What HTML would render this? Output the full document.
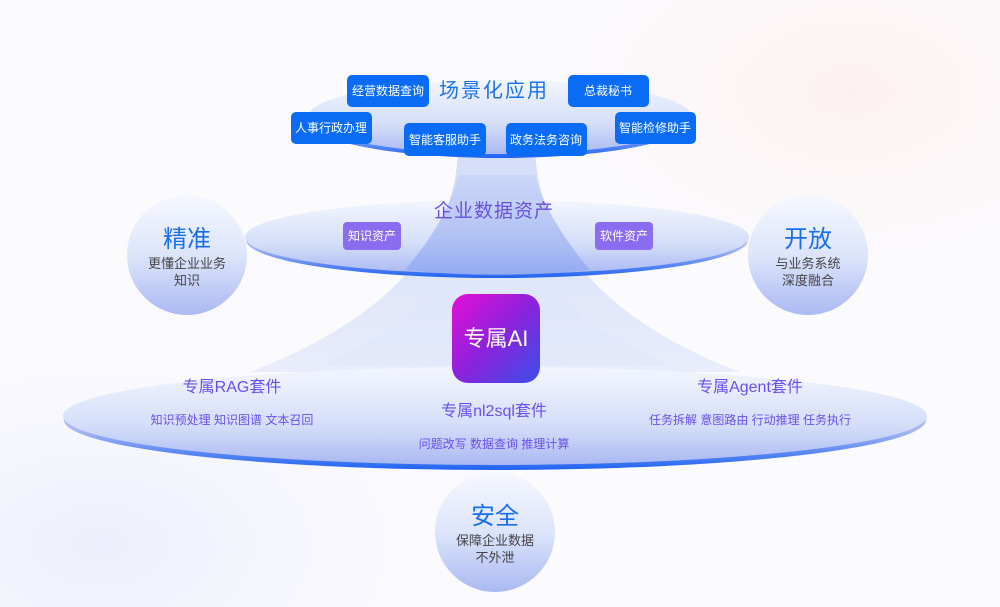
<!DOCTYPE html>
<html><head><meta charset="utf-8"><style>
html,body{margin:0;padding:0;width:1000px;height:607px;overflow:hidden;background:#fbfbfe}
text{font-family:"Liberation Sans","Noto Sans CJK SC",sans-serif}
</style></head><body>
<svg width="1000" height="607" viewBox="0 0 1000 607" xmlns="http://www.w3.org/2000/svg">
<defs>
<radialGradient id="bg1" cx="0.85" cy="0.15" r="0.45"><stop offset="0" stop-color="#fcf1f0"/><stop offset="1" stop-color="#fbfbfe" stop-opacity="0"/></radialGradient>
<radialGradient id="bg2" cx="0.1" cy="0.9" r="0.5"><stop offset="0" stop-color="#eeeefc"/><stop offset="1" stop-color="#fbfbfe" stop-opacity="0"/></radialGradient>
<linearGradient id="circ" x1="0" y1="0" x2="0" y2="1"><stop offset="0" stop-color="#f6f8fe"/><stop offset="0.5" stop-color="#dde5fb"/><stop offset="1" stop-color="#aab9f2"/></linearGradient>
<linearGradient id="ell" x1="0" y1="0" x2="0" y2="1"><stop offset="0" stop-color="#f3f6fe"/><stop offset="0.6" stop-color="#d4def9"/><stop offset="1" stop-color="#a9b8f3"/></linearGradient>
<linearGradient id="edge" x1="0" y1="0" x2="0" y2="1"><stop offset="0.6" stop-color="#a9b8f3"/><stop offset="1" stop-color="#1f63f2"/></linearGradient>
<linearGradient id="cone" x1="0" y1="0" x2="0" y2="1"><stop offset="0" stop-color="#d0daf7"/><stop offset="1" stop-color="#e6ebfb"/></linearGradient>
<linearGradient id="ai" x1="0" y1="0" x2="1" y2="1"><stop offset="0" stop-color="#e60ed6"/><stop offset="0.5" stop-color="#8a22dc"/><stop offset="1" stop-color="#3a4fe8"/></linearGradient>
<linearGradient id="midcone" x1="0" y1="0" x2="0" y2="1"><stop offset="0" stop-color="#c9d5f7"/><stop offset="1" stop-color="#8ea7f0"/></linearGradient>
</defs>
<rect width="1000" height="607" fill="url(#bg1)"/>
<rect width="1000" height="607" fill="url(#bg2)"/>
<!-- cone -->
<path d="M458,150 C455,260 360,330 250,372 L740,372 C630,330 540,260 535,150 Z" fill="url(#cone)" opacity="0.9"/>
<!-- bottom ellipse -->
<ellipse cx="495" cy="420" rx="431" ry="50" fill="url(#edge)"/>
<ellipse cx="495" cy="416" rx="432" ry="49" fill="url(#ell)"/>
<path d="M320,366 C400,330 440,300 458,240 L535,240 C550,300 590,330 670,366 Z" fill="#dfe6fb" opacity="0.5"/>
<!-- middle ellipse -->
<ellipse cx="497" cy="240" rx="251" ry="38" fill="url(#edge)"/>
<ellipse cx="497" cy="237" rx="252" ry="37" fill="url(#ell)"/>
<path d="M405,270 C430,240 450,210 458,175 L535,175 C545,210 565,240 590,270 Q497,280 405,270 Z" fill="url(#midcone)" opacity="0.8"/>
<!-- top ellipse -->
<ellipse cx="500" cy="121" rx="191" ry="37" fill="url(#edge)"/>
<ellipse cx="500" cy="117" rx="192" ry="37" fill="url(#ell)"/>
<!-- circles -->
<circle cx="187" cy="255" r="60" fill="url(#circ)"/>
<circle cx="808" cy="255" r="60" fill="url(#circ)"/>
<circle cx="495" cy="532" r="60" fill="url(#circ)"/>
<g text-anchor="middle">
<text x="187" y="247" font-size="24" fill="#1a6fe8">精准</text>
<text x="187" y="268" font-size="13" fill="#444">更懂企业业务</text>
<text x="187" y="285" font-size="13" fill="#444">知识</text>
<text x="808" y="247" font-size="24" fill="#1a6fe8">开放</text>
<text x="808" y="268" font-size="13" fill="#444">与业务系统</text>
<text x="808" y="285" font-size="13" fill="#444">深度融合</text>
<text x="495" y="524" font-size="24" fill="#1a6fe8">安全</text>
<text x="495" y="545" font-size="13" fill="#444">保障企业数据</text>
<text x="495" y="562" font-size="13" fill="#444">不外泄</text>
</g>
<!-- top boxes -->
<g fill="#0a6cf5">
<rect x="347" y="75" width="82" height="32" rx="5"/>
<rect x="568" y="75" width="81" height="32" rx="5"/>
<rect x="291" y="112" width="81" height="32" rx="5"/>
<rect x="404" y="123" width="82" height="33" rx="5"/>
<rect x="506" y="123" width="81" height="33" rx="5"/>
<rect x="615" y="112" width="81" height="32" rx="5"/>
</g>
<g text-anchor="middle" font-size="12" fill="#fff">
<text x="388" y="95">经营数据查询</text>
<text x="608" y="95">总裁秘书</text>
<text x="331" y="132">人事行政办理</text>
<text x="445" y="144">智能客服助手</text>
<text x="546" y="144">政务法务咨询</text>
<text x="655" y="132">智能检修助手</text>
</g>
<text x="494" y="97" font-size="20" fill="#1a73e8" text-anchor="middle" letter-spacing="2">场景化应用</text>
<text x="494" y="217" font-size="19" fill="#6a4fe0" text-anchor="middle" letter-spacing="1">企业数据资产</text>
<rect x="343" y="222" width="58" height="28" rx="4" fill="#8a6cf0"/>
<rect x="595" y="222" width="58" height="28" rx="4" fill="#8a6cf0"/>
<text x="372" y="240" font-size="12" fill="#fff" text-anchor="middle">知识资产</text>
<text x="624" y="240" font-size="12" fill="#fff" text-anchor="middle">软件资产</text>
<!-- AI icon -->
<rect x="452" y="294" width="88" height="89" rx="16" fill="url(#ai)"/>
<text x="496" y="346" font-size="22" fill="#fff" text-anchor="middle">专属AI</text>
<g text-anchor="middle" fill="#6a4ff0">
<text x="232" y="392" font-size="16">专属RAG套件</text>
<text x="232" y="424" font-size="12">知识预处理 知识图谱 文本召回</text>
<text x="494" y="416" font-size="16">专属nl2sql套件</text>
<text x="494" y="448" font-size="12">问题改写 数据查询 推理计算</text>
<text x="750" y="392" font-size="16">专属Agent套件</text>
<text x="750" y="424" font-size="12">任务拆解 意图路由 行动推理 任务执行</text>
</g>
</svg>
</body></html>
